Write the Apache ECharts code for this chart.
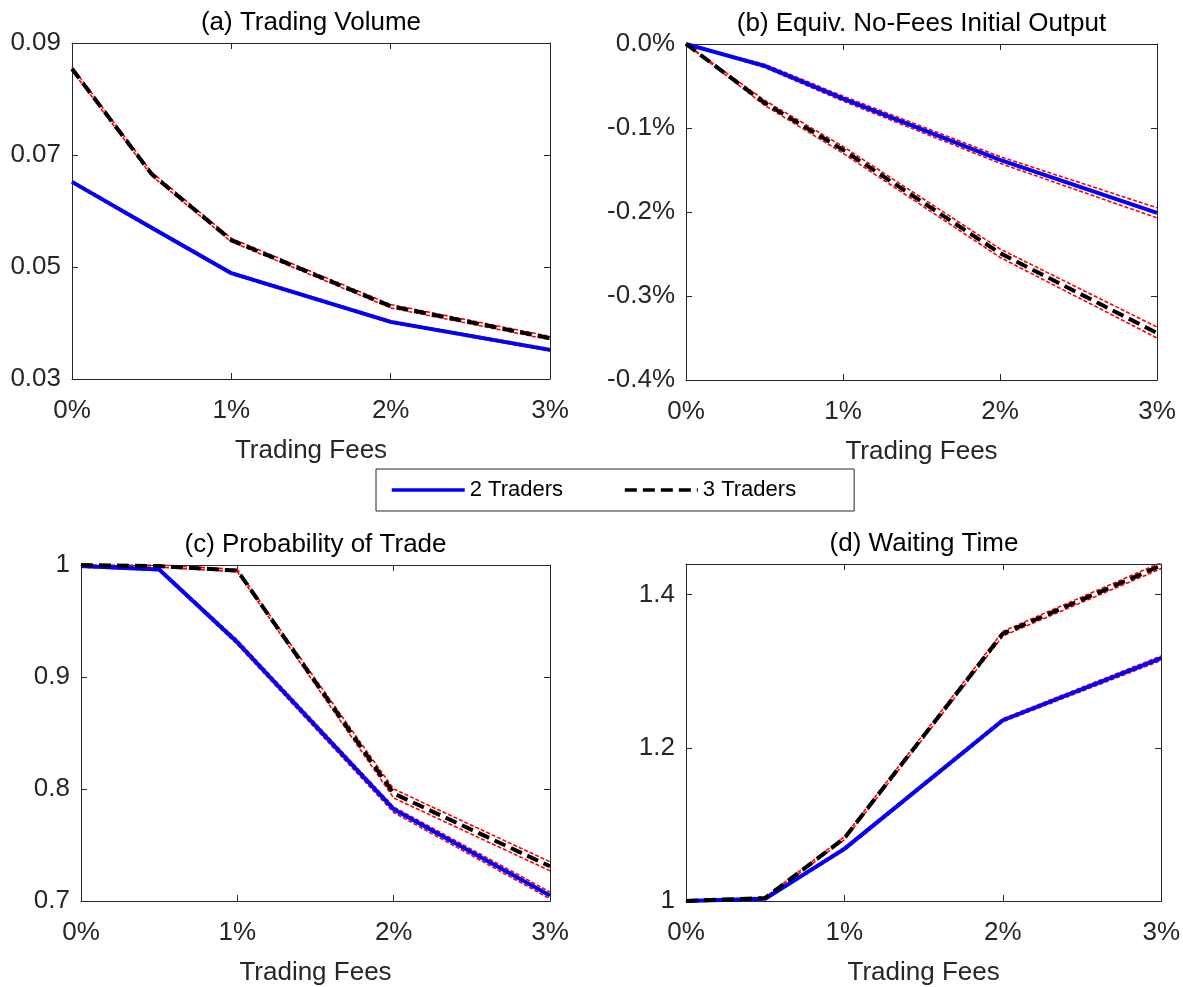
<!DOCTYPE html>
<html>
<head>
<meta charset="utf-8">
<title>Trading Fees</title>
<script src="https://cdn.jsdelivr.net/npm/echarts@6/dist/echarts.min.js"></script>
<style>
    html, body { margin: 0; padding: 0; background: #fff; }
    #main { width: 1183px; height: 987px; }
</style>
</head>
<body>
<div id="main"></div>
<script>
// trading fees (in %) on the x axis
var fees = [0, 0.5, 1, 2, 3];

// (a) Trading Volume
var volume2   = [0.0652, 0.0570, 0.0489, 0.0402, 0.0352];
var volume2Lo = [0.0650, 0.0568, 0.0487, 0.0400, 0.0350];
var volume2Hi = [0.0654, 0.0572, 0.0491, 0.0404, 0.0354];
var volume3   = [0.0854, 0.0666, 0.0548, 0.0430, 0.0373];
var volume3Lo = [0.0851, 0.0663, 0.0545, 0.0427, 0.0370];
var volume3Hi = [0.0857, 0.0669, 0.0551, 0.0433, 0.0376];

// (b) Equiv. No-Fees Initial Output (in %)
var output2   = [0, -0.026, -0.065, -0.138, -0.201];
var output2Lo = [0, -0.028, -0.068, -0.142, -0.207];
var output2Hi = [0, -0.024, -0.062, -0.134, -0.195];
var output3   = [0, -0.070, -0.126, -0.249, -0.344];
var output3Lo = [0, -0.073, -0.130, -0.254, -0.350];
var output3Hi = [0, -0.067, -0.122, -0.244, -0.337];

// (c) Probability of Trade
var prob2   = [0.999, 0.996, 0.931, 0.782, 0.705];
var prob2Lo = [0.998, 0.995, 0.929, 0.779, 0.702];
var prob2Hi = [1.000, 0.997, 0.933, 0.784, 0.708];
var prob3   = [1.000, 0.999, 0.995, 0.796, 0.731];
var prob3Lo = [0.999, 0.998, 0.994, 0.792, 0.727];
var prob3Hi = [1.000, 1.000, 0.996, 0.800, 0.735];

// (d) Waiting Time
var wait2   = [1.000, 1.003, 1.068, 1.236, 1.317];
var wait2Lo = [1.000, 1.002, 1.066, 1.234, 1.314];
var wait2Hi = [1.000, 1.004, 1.070, 1.238, 1.320];
var wait3   = [1.000, 1.004, 1.082, 1.349, 1.438];
var wait3Lo = [1.000, 1.003, 1.080, 1.346, 1.434];
var wait3Hi = [1.000, 1.005, 1.084, 1.352, 1.442];

var legendNames = ['2 Traders', '3 Traders'];

var textColor = '#262626';
var fontFamily = 'Liberation Sans, Arial, sans-serif';
var fontSize = 26;

function shortNum(v) {
    return String(+v.toFixed(2));
}

var panels = [{
    title: '(a) Trading Volume',
    grid: { left: 72, top: 43, width: 478, height: 336 },
    yMin: 0.03, yMax: 0.09, yStep: 0.02, showMax: true,
    yFmt: function(v) { return v.toFixed(2); },
    two: [volume2, volume2Lo, volume2Hi],
    three: [volume3, volume3Lo, volume3Hi]
}, {
    title: '(b) Equiv. No-Fees Initial Output',
    grid: { left: 686, top: 44, width: 471, height: 336 },
    yMin: -0.4, yMax: 0, yStep: 0.1, showMax: true,
    yFmt: function(v) { return v.toFixed(1) + '%'; },
    two: [output2, output2Lo, output2Hi],
    three: [output3, output3Lo, output3Hi]
}, {
    title: '(c) Probability of Trade',
    grid: { left: 81, top: 565, width: 469, height: 336 },
    yMin: 0.7, yMax: 1, yStep: 0.1, showMax: true,
    yFmt: shortNum,
    two: [prob2, prob2Lo, prob2Hi],
    three: [prob3, prob3Lo, prob3Hi]
}, {
    title: '(d) Waiting Time',
    grid: { left: 686, top: 564, width: 476, height: 337 },
    yMin: 1, yMax: 1.44, yStep: 0.2, showMax: false,   // axis is cut at 1.44, no label there
    yFmt: shortNum,
    two: [wait2, wait2Lo, wait2Hi],
    three: [wait3, wait3Lo, wait3Hi]
}];

function pts(ys) {
    return fees.map(function(x, i) { return [x, ys[i]]; });
}

var grids = [], xAxes = [], yAxes = [], series = [], graphics = [];

panels.forEach(function(p, i) {
    grids.push(p.grid);

    var lineStyle = { color: textColor, width: 1 };

    //  bottom axis with labels, top axis only for the box ticks
    xAxes.push({
        type: 'value', gridIndex: i, position: 'bottom',
        min: 0, max: 3, interval: 1,
        name: 'Trading Fees', nameLocation: 'middle', nameGap: 59,
        nameTextStyle: { color: textColor, fontSize: fontSize, fontFamily: fontFamily },
        axisLine: { onZero: false, lineStyle: lineStyle },
        axisTick: { inside: true, length: 6, lineStyle: lineStyle },
        axisLabel: { formatter: '{value}%', color: textColor, fontSize: fontSize, fontFamily: fontFamily, margin: 19 },
        splitLine: { show: false }
    });
    xAxes.push({
        type: 'value', gridIndex: i, position: 'top',
        min: 0, max: 3, interval: 1,
        axisLine: { onZero: false, lineStyle: lineStyle },
        axisTick: { inside: true, length: 6, lineStyle: lineStyle },
        axisLabel: { show: false },
        splitLine: { show: false }
    });

    yAxes.push({
        type: 'value', gridIndex: i, position: 'left',
        min: p.yMin, max: p.yMax, interval: p.yStep,
        axisLine: { show: true, onZero: false, lineStyle: lineStyle },
        axisTick: { show: true, inside: true, length: 6, lineStyle: lineStyle },
        axisLabel: {
            formatter: p.yFmt, showMaxLabel: p.showMax,
            color: textColor, fontSize: fontSize, fontFamily: fontFamily, margin: 11
        },
        splitLine: { show: false }
    });
    yAxes.push({
        type: 'value', gridIndex: i, position: 'right',
        min: p.yMin, max: p.yMax, interval: p.yStep,
        axisLine: { show: true, onZero: false, lineStyle: lineStyle },
        axisTick: { show: true, inside: true, length: 6, lineStyle: lineStyle },
        axisLabel: { show: false },
        splitLine: { show: false }
    });

    //  red dotted bands first, then the means on top
    [p.two[1], p.two[2], p.three[1], p.three[2]].forEach(function(band) {
        series.push({
            name: 'band', type: 'line', xAxisIndex: i * 2, yAxisIndex: i * 2,
            data: pts(band), symbol: 'none', silent: true, z: 2,
            lineStyle: { color: '#ff0000', width: 1.6, type: [4, 2] }
        });
    });

    series.push({
        name: legendNames[0], type: 'line', xAxisIndex: i * 2, yAxisIndex: i * 2,
        data: pts(p.two[0]), symbol: 'none', z: 3,
        itemStyle: { color: '#0000ff' },
        lineStyle: { color: '#0000ff', width: 4 }
    });
    series.push({
        name: legendNames[1], type: 'line', xAxisIndex: i * 2, yAxisIndex: i * 2,
        data: pts(p.three[0]), symbol: 'none', z: 4,
        itemStyle: { color: '#000' },
        lineStyle: { color: '#000', width: 4, type: [12, 6] }
    });

    graphics.push({
        type: 'text',
        x: p.grid.left + p.grid.width / 2,
        y: p.grid.top - 20,
        style: {
            text: p.title, fill: '#000', fontSize: fontSize, fontFamily: fontFamily,
            align: 'center', verticalAlign: 'middle'
        }
    });
});

var chart = echarts.init(document.getElementById('main'));
chart.setOption({
    backgroundColor: '#fff',
    animation: false,
    grid: grids,
    xAxis: xAxes,
    yAxis: yAxes,
    legend: {
        data: legendNames,
        left: 376, top: 469,
        padding: [10, 58, 10, 14],
        itemWidth: 73, itemHeight: 14, itemGap: 60,
        borderColor: textColor, borderWidth: 1,
        itemStyle: { opacity: 0 },    // no marker dot, only the line
        lineStyle: { width: 3.5 },
        textStyle: { color: '#000', fontSize: 22, fontFamily: fontFamily }
    },
    graphic: graphics,
    series: series
});
</script>
</body>
</html>
